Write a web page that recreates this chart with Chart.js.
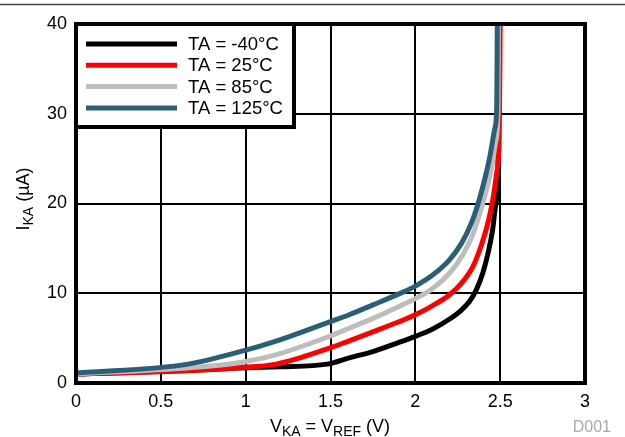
<!DOCTYPE html>
<html>
<head>
<meta charset="utf-8">
<script src="https://cdn.jsdelivr.net/npm/chart.js@4"></script>
<style>
  body { margin: 0; background: #fff; }
</style>
</head>
<body>
<canvas id="chart" width="625" height="437"></canvas>
<script>
// series, x = VKA (V), y = IKA (uA)
const seriesNames = ['TA = -40°C', 'TA = 25°C', 'TA = 85°C', 'TA = 125°C'];

const xM40 = [0, 0.67, 1.0, 1.2, 1.48, 1.61, 1.75, 1.9, 2.0, 2.1, 2.2, 2.27, 2.32, 2.36, 2.4, 2.43, 2.455, 2.475, 2.487, 2.49];
const yM40 = [1.0, 1.4, 1.7, 1.8, 2.1, 2.8, 3.5, 4.5, 5.2, 6.0, 7.1, 8.1, 9.1, 10.4, 12.4, 14.6, 17.0, 20.0, 24, 40];

const x25 = [0, 0.67, 0.95, 1.18, 1.48, 1.61, 1.75, 1.9, 2.0, 2.1, 2.2, 2.28, 2.34, 2.39, 2.43, 2.46, 2.48, 2.495, 2.5];
const y25 = [1.0, 1.4, 1.7, 2.1, 3.8, 4.7, 5.7, 6.8, 7.6, 8.6, 9.8, 11.3, 13.0, 15.4, 18.0, 20.8, 23.5, 28, 40];

const x85 = [0, 0.67, 0.94, 1.17, 1.48, 1.61, 1.75, 1.9, 2.0, 2.1, 2.2, 2.28, 2.34, 2.38, 2.42, 2.45, 2.475, 2.488, 2.49];
const y85 = [1.0, 1.7, 2.2, 3.1, 5.1, 6.1, 7.2, 8.5, 9.4, 10.5, 12.2, 14.3, 16.6, 18.9, 21.6, 24.0, 27, 31, 40];

const x125 = [0, 0.66, 0.99, 1.17, 1.48, 1.61, 1.75, 1.9, 2.0, 2.1, 2.2, 2.27, 2.33, 2.37, 2.41, 2.44, 2.47, 2.48, 2.483];
const y125 = [1.1, 2.1, 3.6, 4.6, 6.7, 7.6, 8.7, 9.9, 10.8, 12.0, 13.7, 15.5, 17.8, 20.0, 22.8, 25.3, 28.5, 31, 40];

const colors = ['#000000', '#ff0000', '#bdbdbd', '#2b5f78'];
const FONT = '"Liberation Sans", Arial, sans-serif';

function toPoints(xs, ys) {
    return xs.map((x, i) => ({ x: x, y: ys[i] }));
}

const allX = [xM40, x25, x85, x125];
const allY = [yM40, y25, y85, y125];

const datasets = seriesNames.map((name, i) => ({
    label: name,
    data: toPoints(allX[i], allY[i]),
    borderColor: colors[i],
    backgroundColor: colors[i],
    borderWidth: 5,
    pointRadius: 0,
    cubicInterpolationMode: 'monotone',
    order: 3 - i //teal on top
}));

//linea gris arriba
const topRule = {
    id: 'topRule',
    beforeDraw(chart) {
        const { ctx } = chart;
        ctx.save();
        ctx.strokeStyle = '#444';
        ctx.lineWidth = 1.5;
        ctx.beginPath();
        ctx.moveTo(0, 4.5);
        ctx.lineTo(chart.width, 4.5);
        ctx.stroke();
        ctx.restore();
    }
};

//marco grueso
const frame = {
    id: 'frame',
    afterDatasetsDraw(chart) {
        const { ctx, chartArea: { left, top, right, bottom } } = chart;
        ctx.save();
        ctx.strokeStyle = '#000';
        ctx.lineWidth = 4;
        ctx.strokeRect(left, top, right - left, bottom - top);
        ctx.restore();
    }
};

//leyenda dentro del grafico
const legendBox = {
    id: 'legendBox',
    afterDraw(chart) {
        const { ctx, chartArea: { left, top } } = chart;
        ctx.save();
        ctx.fillStyle = '#fff';
        ctx.fillRect(left, top, 218, 103);
        ctx.strokeStyle = '#000';
        ctx.lineWidth = 4;
        ctx.strokeRect(left, top, 218, 103);
        ctx.font = '18.5px ' + FONT;
        ctx.textBaseline = 'middle';
        seriesNames.forEach((name, i) => {
            const y = top + 20 + i * 21.3;
            ctx.strokeStyle = colors[i];
            ctx.lineWidth = 5;
            ctx.beginPath();
            ctx.moveTo(left + 10, y);
            ctx.lineTo(left + 101, y);
            ctx.stroke();
            ctx.fillStyle = '#000';
            ctx.fillText(name, left + 112, y + 1);
        });
        ctx.restore();
    }
};

//texto con subindices
function drawParts(ctx, parts, x, y) {
    const big = '18px ' + FONT;
    const small = '14px ' + FONT;
    let total = 0;
    parts.forEach(p => {
        ctx.font = p.sub ? small : big;
        total += ctx.measureText(p.t).width;
    });
    let cx = x - total / 2;
    parts.forEach(p => {
        ctx.font = p.sub ? small : big;
        ctx.fillText(p.t, cx, p.sub ? y + 4 : y);
        cx += ctx.measureText(p.t).width;
    });
}

const axisTitles = {
    id: 'axisTitles',
    afterDraw(chart) {
        const { ctx } = chart;
        ctx.save();
        ctx.fillStyle = '#000';
        ctx.textBaseline = 'alphabetic';
        drawParts(ctx, [
            { t: 'V' }, { t: 'KA', sub: true }, { t: ' = V' }, { t: 'REF', sub: true }, { t: ' (V)' }
        ], 330, 432);
        ctx.translate(29, 199);
        ctx.rotate(-Math.PI / 2);
        drawParts(ctx, [{ t: 'I' }, { t: 'KA', sub: true }, { t: ' (µA)' }], 0, 0);
        ctx.restore();

        ctx.save();
        ctx.fillStyle = '#aaa';
        ctx.font = '16px ' + FONT;
        ctx.textAlign = 'right';
        ctx.textBaseline = 'alphabetic';
        ctx.fillText('D001', 611, 432);
        ctx.restore();
    }
};

const config = {
    type: 'line',
    data: { datasets },
    options: {
        responsive: false,
        animation: false,
        layout: {
            padding: { top: 24, right: 40, left: 0, bottom: 0 }
        },
        plugins: {
            legend: { display: false },
            tooltip: { enabled: false }
        },
        scales: {
            x: {
                type: 'linear',
                min: 0,
                max: 3,
                border: { display: false },
                grid: { color: '#000', lineWidth: 2, drawTicks: false },
                ticks: {
                    stepSize: 0.5,
                    color: '#000',
                    font: { size: 18, family: FONT },
                    padding: 8,
                    maxRotation: 0,
                    callback: (v) => String(v)
                },
                afterFit(scale) { scale.height = 54; }
            },
            y: {
                min: 0,
                max: 40,
                border: { display: false },
                grid: { color: '#000', lineWidth: 2, drawTicks: false },
                ticks: {
                    stepSize: 10,
                    color: '#000',
                    font: { size: 18, family: FONT },
                    padding: 9
                },
                afterFit(scale) { scale.width = 76; }
            }
        }
    },
    plugins: [topRule, frame, legendBox, axisTitles]
};

const myChart = new Chart(document.getElementById('chart'), config);
</script>
</body>
</html>
